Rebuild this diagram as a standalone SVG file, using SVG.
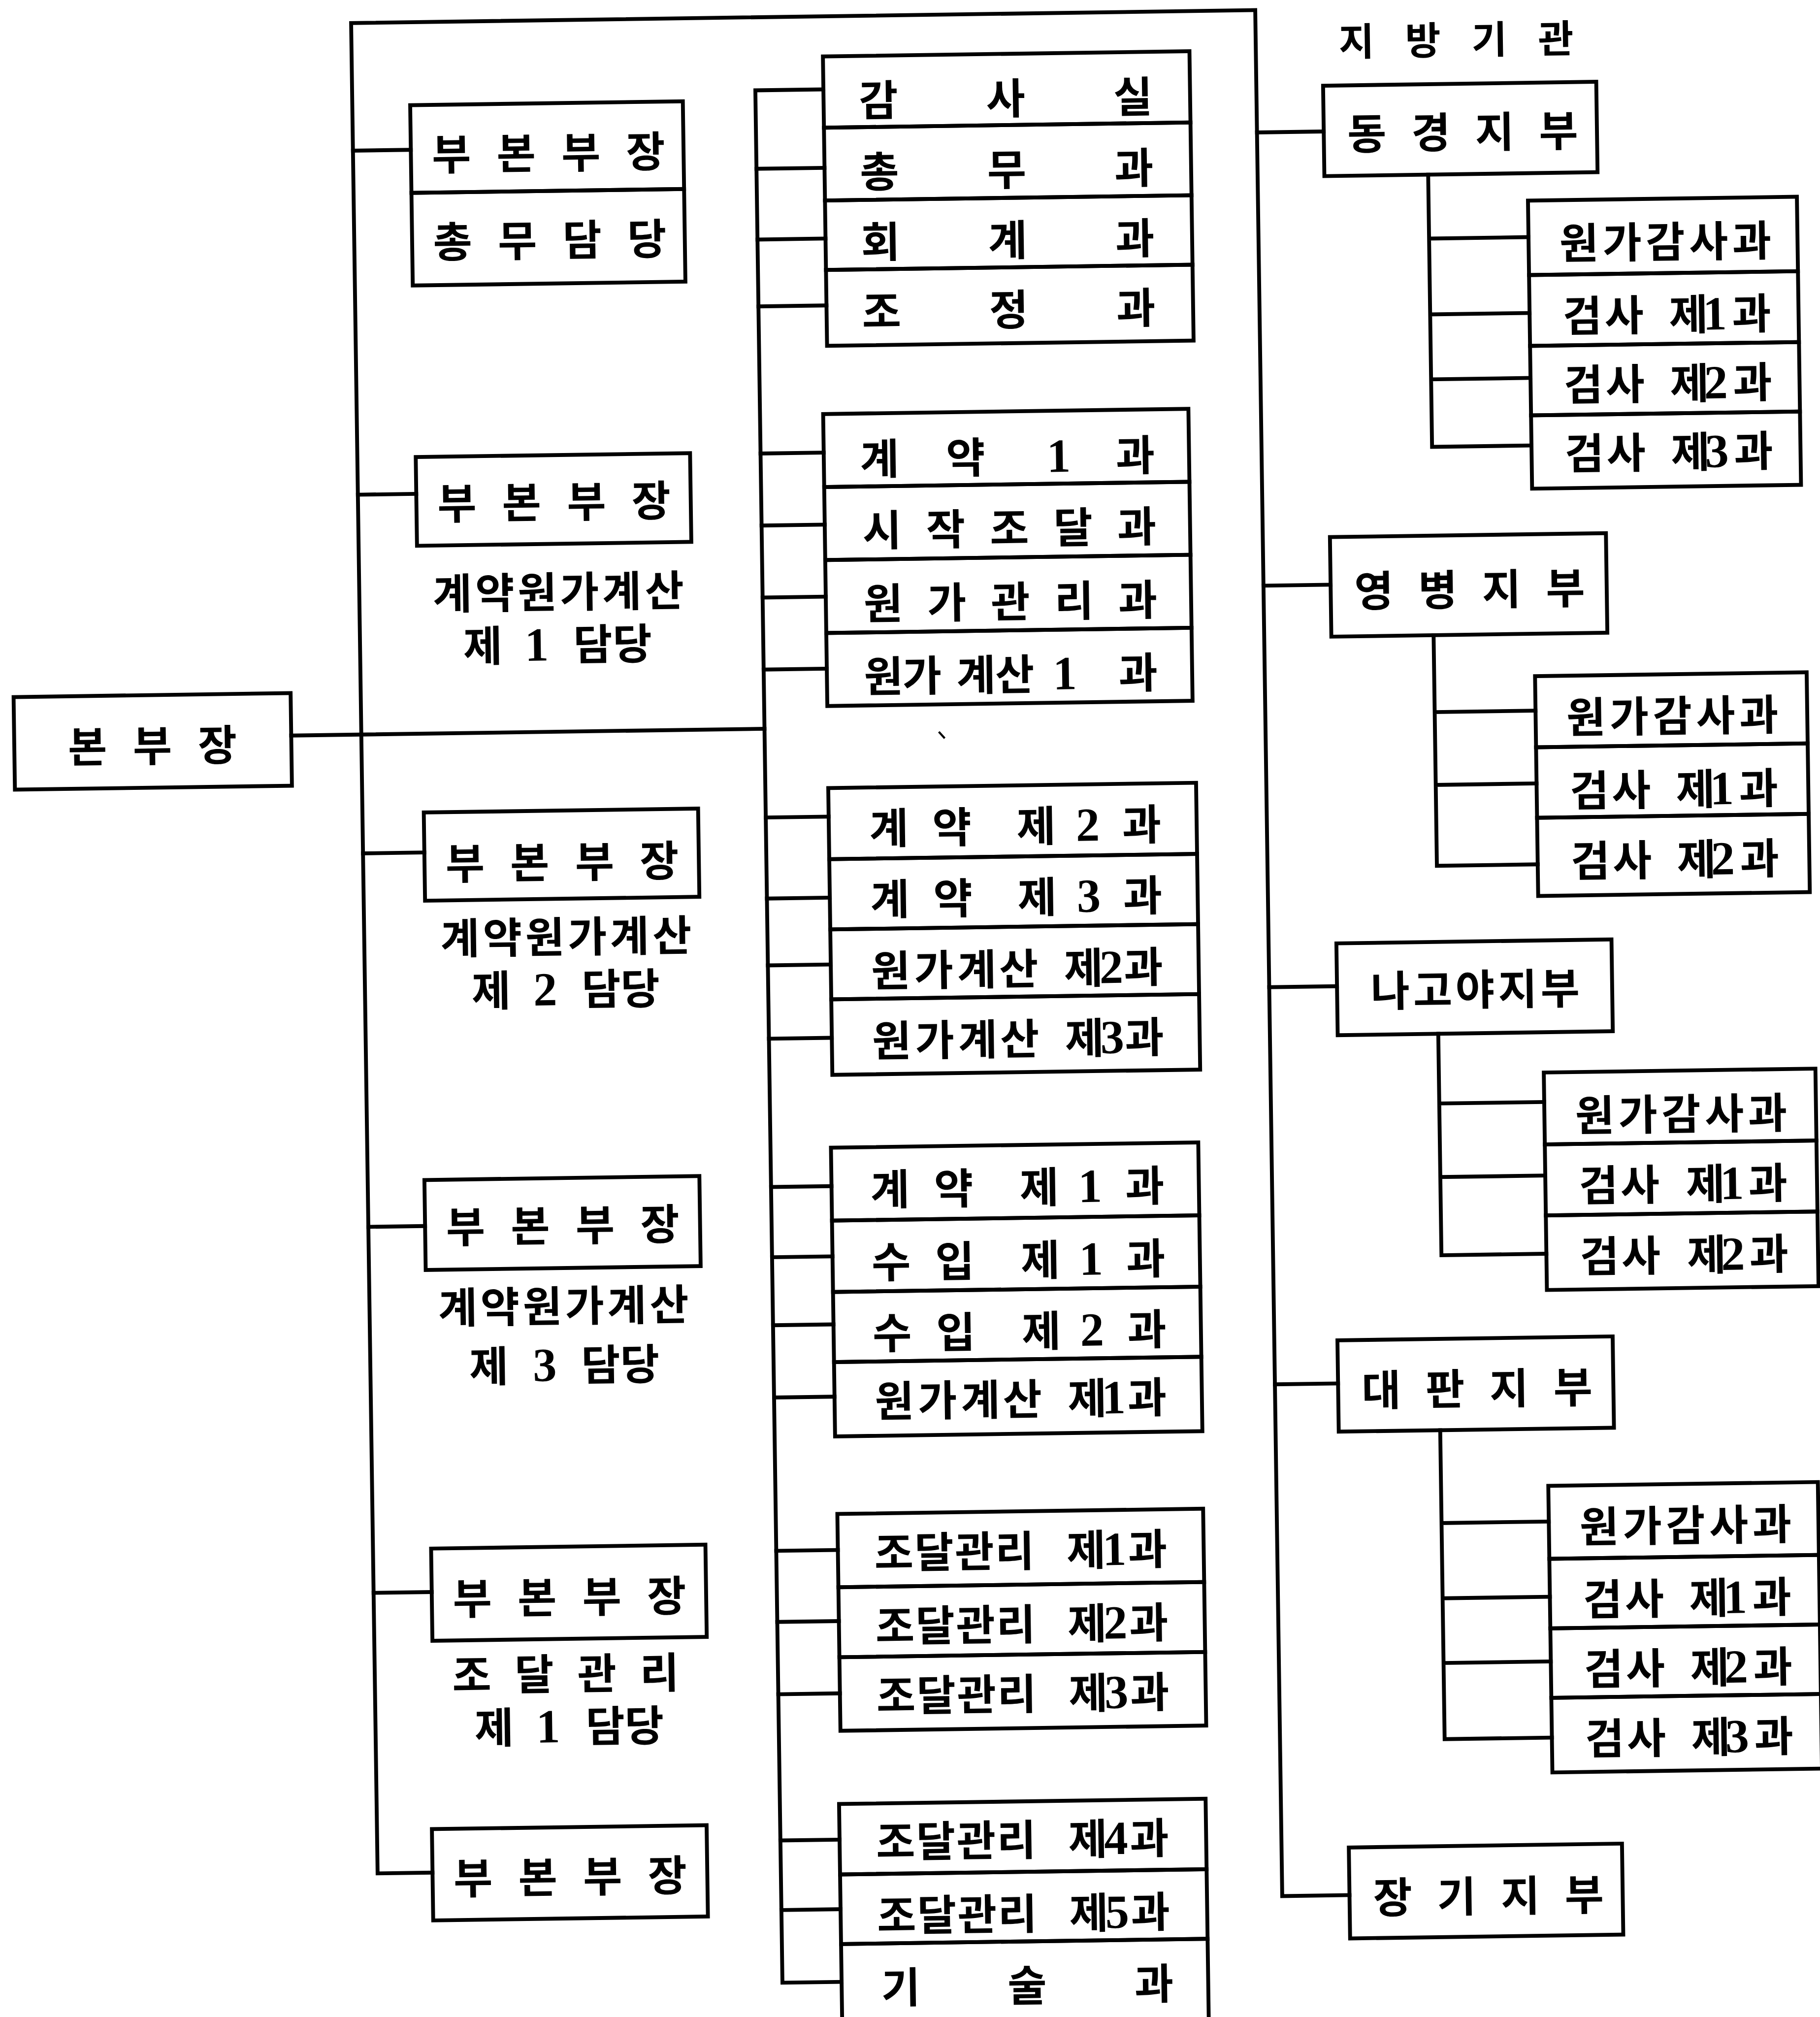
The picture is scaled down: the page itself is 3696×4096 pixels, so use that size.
<svg xmlns="http://www.w3.org/2000/svg" width="3696" height="4096" viewBox="0 0 3696 4096">
<style>
.bx{fill:none;stroke:#000;stroke-width:3}
.cn{fill:none;stroke:#000;stroke-width:3;stroke-linecap:square;stroke-linejoin:miter}
text{font-family:"Noto Sans CJK KR","Noto Sans CJK SC",sans-serif;font-size:33px;font-weight:700;text-anchor:middle;fill:#000}
.d{font-family:"Liberation Serif","Noto Sans CJK KR",serif;font-size:37px;font-weight:700}
.t{font-size:30px;font-weight:700}
</style>
<rect width="3696" height="4096" fill="#fff"/>
<g transform="scale(2.612) rotate(-0.82 707 784)">
<g id="connectors">
<path class="cn" d="M326.7 1450.5H284V11.8H987V1478.2H1039.3"/>
<path class="cn" d="M284 111H329M284 378.5H329.4M284 657.4H331.7M284 947.8H328.1M284 1232.4H329.2M229.5 565H597.5"/>
<path class="cn" d="M650.4 68.6H597.5V1540H643.5"/>
<path class="cn" d="M597.5 129.6H650.4M597.5 184.6H650.4M597.5 236.6H650.4M597.5 351H646.6M597.5 407H646.6M597.5 463H646.6M597.5 519H646.6M597.5 634H646.4M597.5 697H646.4M597.5 749H646.4M597.5 806H646.4M597.5 921.3H644.5M597.5 975.9H644.5M597.5 1028.8H644.5M597.5 1085H644.5M597.5 1204.2H645.4M597.5 1259.5H645.4M597.5 1315.7H645.4M597.5 1429.4H643.5M597.5 1483.5H643.5"/>
<path class="cn" d="M987 106.9H1038.9M987 459.3H1039.2M987 771.5H1039.7M987 1080.3H1036.1"/>
<path class="cn" d="M1119.6 141.6V353.3H1196.9M1119.6 191.3H1196.9M1119.6 250.3H1196.9M1119.6 300.8H1196.9"/>
<path class="cn" d="M1118.7 499.7V679H1197.1M1118.7 559.5H1197.1M1118.7 616.1H1197.1"/>
<path class="cn" d="M1117.9 809.6V981.8H1199.5M1117.9 863.8H1199.5M1117.9 921H1199.5"/>
<path class="cn" d="M1115 1117.8V1358H1198.4M1115 1190H1198.4M1115 1248.5H1198.4M1115 1298.8H1198.4"/>
<path d="M733 569.3L737.5 574.4" stroke="#000" stroke-width="1.6" fill="none"/>
</g>
<g id="n-bonbujang"><rect class="bx" x="14.1" y="532" width="215.4" height="72"/><text x="71 121.5 172" y="583.6">본부장</text></g>
<g id="n-bubonbujang-1"><rect class="bx" x="329" y="76.3" width="212" height="68.2"/><text x="360.5 410.8 461.2 511.5" y="127">부본부장</text></g>
<g id="n-chongmu-damdang"><rect class="bx" x="329" y="144.5" width="212" height="72"/><text x="360.5 410.8 461.2 511.5" y="195">총무담당</text></g>
<g id="n-bubonbujang-2"><rect class="bx" x="329.4" y="349.9" width="213.3" height="69"/><text x="360.9 411.2 461.6 511.9" y="398.5">부본부장</text><text x="356.4 389.4 422.3 455.2 488.1 521.2" y="468.5">계약원가계산</text><text x="379.4" y="509.5">제<tspan class="d" x="421.4">1</tspan><tspan x="465 495.7">담당</tspan></text></g>
<g id="n-bubonbujang-3"><rect class="bx" x="331.7" y="626.3" width="213.3" height="68.6"/><text x="363.2 413.5 463.9 514.2" y="678.5">부본부장</text><text x="358.5 391.5 424.4 457.4 490.3 523.3" y="736.6">계약원가계산</text><text x="382.1" y="777.6">제<tspan class="d" x="424.1">2</tspan><tspan x="467.7 498">담당</tspan></text></g>
<g id="n-bubonbujang-4"><rect class="bx" x="328.1" y="912" width="213.8" height="70"/><text x="359.6 409.9 460.3 510.6" y="961">부본부장</text><text x="352.6 385.5 418.4 451.2 484.1 517" y="1023.6">계약원가계산</text><text x="376.1" y="1069.6">제<tspan class="d" x="419.6">3</tspan><tspan x="463.1 493.6">담당</tspan></text></g>
<g id="n-bubonbujang-5"><rect class="bx" x="329.2" y="1198.6" width="213.3" height="71.7"/><text x="360.7 411 461.4 511.7" y="1250">부본부장</text><text x="359.4 408 456.7 505.3" y="1309.6">조달관리</text><text x="376.2" y="1350.6">제<tspan class="d" x="418.2">1</tspan><tspan x="462.6 493">담당</tspan></text></g>
<g id="n-bubonbujang-6"><rect class="bx" x="326.7" y="1416.7" width="213.6" height="71"/><text x="358.2 408.5 458.9 509.2" y="1467.4">부본부장</text></g>
<g id="n-gamsasil"><rect class="bx" x="650.4" y="43" width="285" height="55.4"/><text x="693.1 792 890.9" y="89.8">감사실</text></g>
<g id="n-chongmugwa"><rect class="bx" x="650.4" y="98.4" width="285" height="56.6"/><text x="693.1 792 890.9" y="145.2">총무과</text></g>
<g id="n-hoegyegwa"><rect class="bx" x="650.4" y="155" width="285" height="54"/><text x="693.1 792 890.9" y="199.9">회계과</text></g>
<g id="n-jojeonggwa"><rect class="bx" x="650.4" y="209" width="285" height="59"/><text x="693.1 792 890.9" y="254">조정과</text></g>
<g id="n-gyeyak1gwa"><rect class="bx" x="646.6" y="321" width="284" height="56.75"/><text x="690 756.9" y="368.5">계약<tspan class="d" x="829.2">1</tspan><tspan x="888.8">과</tspan></text></g>
<g id="n-sijakjodalgwa"><rect class="bx" x="646.6" y="377.75" width="284" height="56.75"/><text x="691.1 740.6 790.1 839.6 889.1" y="424">시작조달과</text></g>
<g id="n-wongagwanrigwa"><rect class="bx" x="646.6" y="434.5" width="284" height="56.75"/><text x="691.1 740.6 790.1 839.6 889.1" y="481">원가관리과</text></g>
<g id="n-wongagyesan1gwa"><rect class="bx" x="646.6" y="491.25" width="284" height="56.75"/><text x="690.6 720.6 762.6 792.6" y="537.6">원가계산<tspan class="d" x="831.6">1</tspan><tspan x="888.6">과</tspan></text></g>
<g id="n-gyeyak-je2gwa"><rect class="bx" x="646.4" y="611.8" width="286" height="55.3"/><text x="693.1 742.1 807.6" y="655.7">계약제<tspan class="d" x="847.7">2</tspan><tspan x="889.6">과</tspan></text></g>
<g id="n-gyeyak-je3gwa"><rect class="bx" x="646.4" y="667.1" width="286" height="54.6"/><text x="693.1 742.1 807.6" y="710.9">계약제<tspan class="d" x="847.7">3</tspan><tspan x="889.6">과</tspan></text></g>
<g id="n-wongagyesan-je2gwa"><rect class="bx" x="646.4" y="721.7" width="286" height="54.4"/><text x="692.9 726.4 759.9 792.4 842.9" y="766.5">원가계산제<tspan class="d" x="864.4">2</tspan><tspan x="889.4">과</tspan></text></g>
<g id="n-wongagyesan-je3gwa"><rect class="bx" x="646.4" y="776.1" width="286" height="58.7"/><text x="692.9 726.4 759.9 792.4 842.9" y="821">원가계산제<tspan class="d" x="864.4">3</tspan><tspan x="889.4">과</tspan></text></g>
<g id="n-gyeyak-je1gwa"><rect class="bx" x="644.5" y="891.4" width="285.6" height="56.7"/><text x="690 739.5 806" y="936.5">계약제<tspan class="d" x="845.5">1</tspan><tspan x="888">과</tspan></text></g>
<g id="n-suip-je1gwa"><rect class="bx" x="644.5" y="948.1" width="285.6" height="55.5"/><text x="690 739.5 806" y="993.1">수입제<tspan class="d" x="845.5">1</tspan><tspan x="888">과</tspan></text></g>
<g id="n-suip-je2gwa"><rect class="bx" x="644.5" y="1003.6" width="285.6" height="54.5"/><text x="690 739.5 806" y="1048.2">수입제<tspan class="d" x="845.5">2</tspan><tspan x="888">과</tspan></text></g>
<g id="n-wongagyesan-je1gwa"><rect class="bx" x="644.5" y="1058.1" width="285.6" height="57.8"/><text x="691 724.5 758 790.5 841" y="1101.1">원가계산제<tspan class="d" x="861.5">1</tspan><tspan x="887.5">과</tspan></text></g>
<g id="n-jodal-je1gwa"><rect class="bx" x="645.4" y="1176.2" width="284.4" height="57"/><text x="688.9 720.2 751.6 782.9 838.4" y="1219">조달관리제<tspan class="d" x="860.4">1</tspan><tspan x="886.2">과</tspan></text></g>
<g id="n-jodal-je2gwa"><rect class="bx" x="645.4" y="1233.2" width="284.4" height="54.4"/><text x="688.9 720.2 751.6 782.9 838.4" y="1276.1">조달관리제<tspan class="d" x="860.4">2</tspan><tspan x="886.2">과</tspan></text></g>
<g id="n-jodal-je3gwa"><rect class="bx" x="645.4" y="1287.6" width="284.4" height="57.2"/><text x="688.9 720.2 751.6 782.9 838.4" y="1330.2">조달관리제<tspan class="d" x="860.4">3</tspan><tspan x="886.2">과</tspan></text></g>
<g id="n-jodal-je4gwa"><rect class="bx" x="643.5" y="1401.7" width="285" height="54.8"/><text x="687 718.3 749.7 781 836.5" y="1443.7">조달관리제<tspan class="d" x="858.5">4</tspan><tspan x="884.3">과</tspan></text></g>
<g id="n-jodal-je5gwa"><rect class="bx" x="643.5" y="1456.5" width="285" height="54.1"/><text x="687 718.3 749.7 781 836.5" y="1501.1">조달관리제<tspan class="d" x="858.5">5</tspan><tspan x="884.3">과</tspan></text></g>
<g id="n-gisulgwa"><rect class="bx" x="643.5" y="1510.6" width="285" height="75"/><text x="689.4 787.7 886.3" y="1557">기술과</text></g>
<g id="title"><text class="t" x="1065.3 1117 1168.6 1220.3" y="48.2">지방기관</text></g>
<g id="n-donggyeong"><rect class="bx" x="1038.9" y="71.3" width="212.4" height="70.3"/><text x="1072.4 1122.1 1171.7 1221.4" y="121.1">동경지부</text></g>
<g id="n-dg-wongagamsa"><rect class="bx" x="1196.9" y="162.9" width="209.1" height="57.9"/><text x="1236 1269.6 1303.2 1336.8 1370.4" y="208.6">원가감사과</text></g>
<g id="n-dg-geomsa1"><rect class="bx" x="1196.9" y="220.8" width="209.1" height="55.1"/><text x="1237.9 1270.4 1320.4" y="265.2">검사제<tspan class="d" x="1340.9">1</tspan><tspan x="1369.4">과</tspan></text></g>
<g id="n-dg-geomsa2"><rect class="bx" x="1196.9" y="275.9" width="209.1" height="54"/><text x="1237.9 1270.4 1320.4" y="318.7">검사제<tspan class="d" x="1340.9">2</tspan><tspan x="1369.4">과</tspan></text></g>
<g id="n-dg-geomsa3"><rect class="bx" x="1196.9" y="329.9" width="209.1" height="57"/><text x="1237.9 1270.4 1320.4" y="372.1">검사제<tspan class="d" x="1340.9">3</tspan><tspan x="1369.4">과</tspan></text></g>
<g id="n-yeongbyeong"><rect class="bx" x="1039.2" y="422.3" width="214.6" height="77.4"/><text x="1072.7 1122.4 1172 1221.7" y="476.7">영병지부</text></g>
<g id="n-yb-wongagamsa"><rect class="bx" x="1197.1" y="532.7" width="211.2" height="55.3"/><text x="1236.2 1269.8 1303.4 1337 1370.6" y="577.2">원가감사과</text></g>
<g id="n-yb-geomsa1"><rect class="bx" x="1197.1" y="588" width="211.2" height="54.8"/><text x="1238.1 1270.6 1320.6" y="634.3">검사제<tspan class="d" x="1341.1">1</tspan><tspan x="1369.6">과</tspan></text></g>
<g id="n-yb-geomsa2"><rect class="bx" x="1197.1" y="642.8" width="211.2" height="60.8"/><text x="1238.1 1270.6 1320.6" y="688.9">검사제<tspan class="d" x="1341.1">2</tspan><tspan x="1369.6">과</tspan></text></g>
<g id="n-nagoya"><rect class="bx" x="1039.7" y="738.2" width="213.9" height="71.4"/><text x="1081 1114 1147 1180.1 1213.1" y="787.8">나고야지부</text></g>
<g id="n-ng-wongagamsa"><rect class="bx" x="1199.5" y="840.9" width="211.2" height="55.9"/><text x="1238.6 1272.2 1305.8 1339.4 1373" y="886.8">원가감사과</text></g>
<g id="n-ng-geomsa1"><rect class="bx" x="1199.5" y="896.8" width="211.2" height="55.2"/><text x="1240.8 1273 1324" y="941.3">검사제<tspan class="d" x="1344.5">1</tspan><tspan x="1372.5">과</tspan></text></g>
<g id="n-ng-geomsa2"><rect class="bx" x="1199.5" y="952" width="211.2" height="58"/><text x="1240.8 1273 1324" y="996.4">검사제<tspan class="d" x="1344.5">2</tspan><tspan x="1372.5">과</tspan></text></g>
<g id="n-daepan"><rect class="bx" x="1036.1" y="1046.8" width="214" height="71"/><text x="1069.6 1119.3 1168.9 1218.6" y="1098">대판지부</text></g>
<g id="n-dp-wongagamsa"><rect class="bx" x="1198.4" y="1162.3" width="209.6" height="56.7"/><text x="1237.5 1271.1 1304.7 1338.3 1371.9" y="1206.6">원가감사과</text></g>
<g id="n-dp-geomsa1"><rect class="bx" x="1198.4" y="1219" width="209.6" height="54.1"/><text x="1239.4 1271.9 1321.9" y="1263.2">검사제<tspan class="d" x="1342.4">1</tspan><tspan x="1370.9">과</tspan></text></g>
<g id="n-dp-geomsa2"><rect class="bx" x="1198.4" y="1273.1" width="209.6" height="54"/><text x="1239.4 1271.9 1321.9" y="1317.3">검사제<tspan class="d" x="1342.4">2</tspan><tspan x="1370.9">과</tspan></text></g>
<g id="n-dp-geomsa3"><rect class="bx" x="1198.4" y="1327.1" width="209.6" height="58"/><text x="1239.4 1271.9 1321.9" y="1371.4">검사제<tspan class="d" x="1342.4">3</tspan><tspan x="1370.9">과</tspan></text></g>
<g id="n-janggi"><rect class="bx" x="1039.3" y="1441.2" width="212.4" height="70.7"/><text x="1072.8 1122.5 1172.1 1221.8" y="1492.6">장기지부</text></g>
</g>
</svg>
